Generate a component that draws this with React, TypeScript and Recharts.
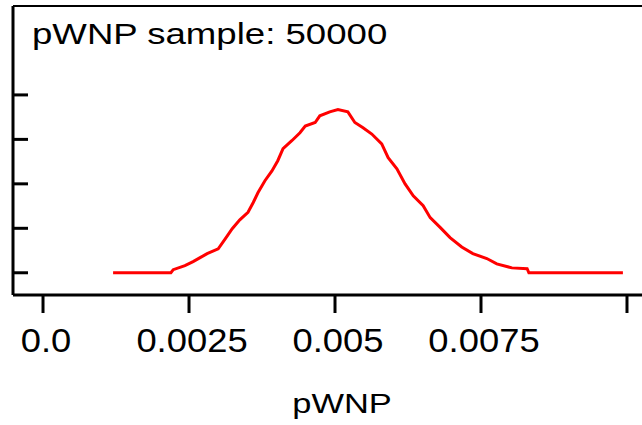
import { LineChart, Line, XAxis, YAxis, ReferenceLine } from 'recharts'

// pWNP values (x) and kernel density (y)
const pwnp = [
  0.0012, 0.00219, 0.00223, 0.00243, 0.00257, 0.00269, 0.00281, 0.003, 0.00312,
  0.00324, 0.00337, 0.00351, 0.0036, 0.00368, 0.0038, 0.00392, 0.00402, 0.00411,
  0.00426, 0.0044, 0.00449, 0.00466, 0.00474, 0.00491, 0.00505, 0.00522, 0.00534,
  0.00548, 0.00563, 0.0058, 0.00591, 0.00606, 0.0062, 0.00634, 0.00651, 0.00663,
  0.0068, 0.00697, 0.00717, 0.00736, 0.0076, 0.00777, 0.00803, 0.00829, 0.00832,
  0.00993,
]
const density = [
  0, 0, 7, 16, 25, 34, 43, 54, 76,
  99, 119, 136, 158, 180, 207, 229, 252, 279,
  297, 315, 330, 338, 353, 362, 367, 362, 338,
  326, 312, 290, 259, 234, 200, 173, 151, 124,
  102, 79, 58, 43, 32, 20, 11, 9, 0,
  0,
]

const xTicks = [0, 0.0025, 0.005, 0.0075, 0.01]
const xTickLabels = ['0.0', '0.0025', '0.005', '0.0075', '']
const yTicks = [0, 100, 200, 300, 400]

const title = 'pWNP sample: 50000'
const axisTitle = 'pWNP'

const data = pwnp.map((v, i) => ({ v, d: density[i] }))

const FONT = '"Liberation Sans", Arial, sans-serif'
const INK = '#000000'

function XTick(props: any) {
  const { x, y, index } = props
  const label = xTickLabels[index] ?? ''
  if (!label) return null
  return (
    <text
      transform={`translate(${x + 3}, ${y + 37}) scale(1.07, 1)`}
      textAnchor="middle"
      fontFamily={FONT}
      fontSize={34}
      fill={INK}
    >
      {label}
    </text>
  )
}

export default function App() {
  return (
    <div style={{ position: 'absolute', left: 0, top: 0, background: '#fff' }}>
      <LineChart
        width={642}
        height={425}
        data={data}
        margin={{ top: 6, right: 0, left: 13, bottom: 0 }}
      >
        <XAxis
          dataKey="v"
          type="number"
          domain={[-0.000514, 0.010257]}
          allowDataOverflow
          ticks={xTicks}
          interval={0}
          height={130}
          tickSize={18}
          tickMargin={2}
          axisLine={{ stroke: INK, strokeWidth: 3 }}
          tickLine={{ stroke: INK, strokeWidth: 3 }}
          tick={<XTick />}
          label={{
            content: () => (
              <text
                transform="translate(342, 413) scale(1.23, 1)"
                textAnchor="middle"
                fontFamily={FONT}
                fontSize={28}
                fill={INK}
              >
                {axisTitle}
              </text>
            ),
          }}
        />
        <YAxis
          type="number"
          domain={[-50, 600]}
          allowDataOverflow
          ticks={yTicks}
          interval={0}
          mirror
          tickSize={15}
          tick={() => <g />}
          axisLine={{ stroke: INK, strokeWidth: 3 }}
          tickLine={{ stroke: INK, strokeWidth: 3 }}
        />
        <ReferenceLine
          y={600}
          stroke={INK}
          strokeWidth={2}
          label={{
            content: () => (
              <text
                transform="translate(32, 44) scale(1.22, 1)"
                fontFamily={FONT}
                fontSize={30}
                fill={INK}
              >
                {title}
              </text>
            ),
          }}
        />
        <Line
          type="linear"
          dataKey="d"
          stroke="#ff0000"
          strokeWidth={3}
          dot={false}
          isAnimationActive={false}
        />
      </LineChart>
    </div>
  )
}
